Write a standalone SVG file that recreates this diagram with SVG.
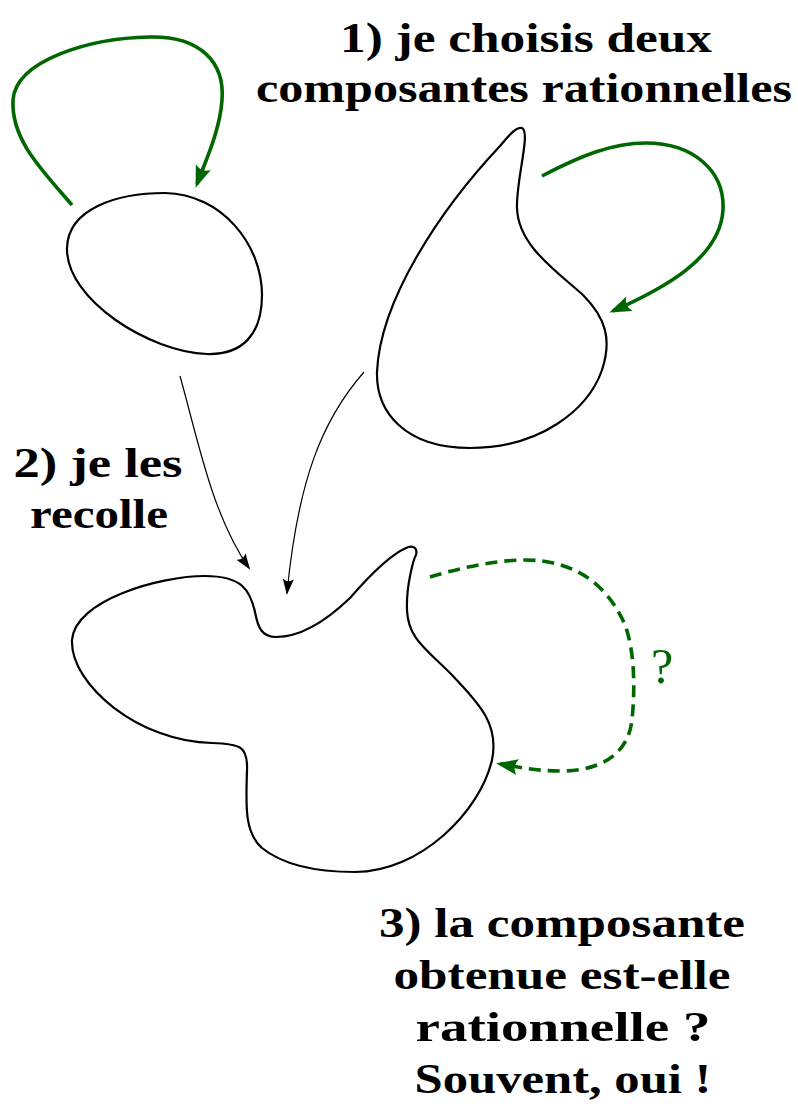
<svg xmlns="http://www.w3.org/2000/svg" width="798" height="1104" viewBox="0 0 798 1104">
<style>
.curve{fill:none;stroke:#000;stroke-width:2.2;stroke-linejoin:round}
.garrow{fill:none;stroke:#006600;stroke-width:3.6;stroke-linecap:butt}
.gdash{fill:none;stroke:#006600;stroke-width:3.6;stroke-dasharray:12 7}
.thin{fill:none;stroke:#000;stroke-width:1.2}
.lbl{font-family:'Liberation Serif','Times New Roman','DejaVu Serif',serif;font-weight:bold;font-size:43px;fill:#000;text-anchor:middle}
.q{font-family:'Liberation Serif','Times New Roman','DejaVu Serif',serif;font-size:50px;fill:#006600;text-anchor:middle}
</style>
<defs>
<marker id="gtip" markerUnits="userSpaceOnUse" markerWidth="26" markerHeight="18" refX="18" refY="8" orient="auto" overflow="visible">
<path d="M0,0 Q6,8 0,16 L22,8 Z" fill="#006600"/>
</marker>
<marker id="btip" markerUnits="userSpaceOnUse" markerWidth="20" markerHeight="14" refX="14" refY="5.5" orient="auto" overflow="visible">
<path d="M0,0 Q4.5,5.5 0,11 L16,5.5 Z" fill="#000"/>
</marker>
</defs>

<g id="blob1">
<path class="curve" d="M67,248 C68,208 118,193 165,193 C222,194 262,245 262,295 C262,335 242,355 207,354 C150,352 66,300 67,248 Z"/>
</g>

<g id="blob2">
<path class="curve" d="M522,128 C531,132 516,180 517,208 C518,245 555,270 583,295 C606,318 612,340 602,370 C588,410 540,448 470,448 C405,448 376,412 377,372 C380,300 440,210 500,146 C508,137 515,127 522,128 Z"/>
</g>

<g id="blob3">
<path class="curve" d="M276,637 C262,637 258,628 255,612 C250,590 242,576 205,576 C160,576 75,600 72,640 C70,685 140,742 212,743 C240,744 248,746 247,770 C246,805 244,832 262,848 C282,864 315,872 355,872 C420,872 480,812 492,760 C500,722 475,700 452,675 C425,648 408,638 407,610 C406,585 414,558 416,555 C418,547 412,545 406,548 C390,555 370,575 350,598 C325,622 300,637 276,637 Z"/>
</g>

<g id="label1">
<text class="lbl" x="526" y="52" textLength="372" lengthAdjust="spacingAndGlyphs">1) je choisis deux</text>
<text class="lbl" x="524" y="102" textLength="536" lengthAdjust="spacingAndGlyphs">composantes rationnelles</text>
</g>
<g id="label2">
<text class="lbl" x="98" y="477" textLength="169" lengthAdjust="spacingAndGlyphs">2) je les</text>
<text class="lbl" x="99" y="528" textLength="138" lengthAdjust="spacingAndGlyphs">recolle</text>
</g>
<g id="label3">
<text class="lbl" x="562" y="937" textLength="366" lengthAdjust="spacingAndGlyphs">3) la composante</text>
<text class="lbl" x="562" y="989" textLength="337" lengthAdjust="spacingAndGlyphs">obtenue est-elle</text>
<text class="lbl" x="563" y="1041" textLength="295" lengthAdjust="spacingAndGlyphs">rationnelle ?</text>
<text class="lbl" x="563" y="1093" textLength="297" lengthAdjust="spacingAndGlyphs">Souvent, oui !</text>
</g>

<g id="connectors">
<path class="garrow" marker-end="url(#gtip)" d="M72,205 C42,170 11,140 13,100 C16,60 90,38 150,37 C200,36 225,62 222,100 C220,130 206,160 197,184"/>
<path class="garrow" marker-end="url(#gtip)" d="M542,176 C580,156 612,143 646,143 C692,143 725,170 723,210 C720,258 665,288 613,311"/>
<path class="thin" marker-end="url(#btip)" d="M180,376 C198,440 212,515 249,568"/>
<path class="thin" marker-end="url(#btip)" d="M364,372 C322,420 298,480 287,593"/>
<path class="gdash" marker-end="url(#gtip)" d="M430,577 C460,568 495,560 525,560 C580,560 610,590 625,625 C635,652 635,690 632,720 C628,755 600,771 560,771 C540,771 522,768 500,764"/>
<text class="q" x="662" y="683">?</text>
</g>
</svg>
